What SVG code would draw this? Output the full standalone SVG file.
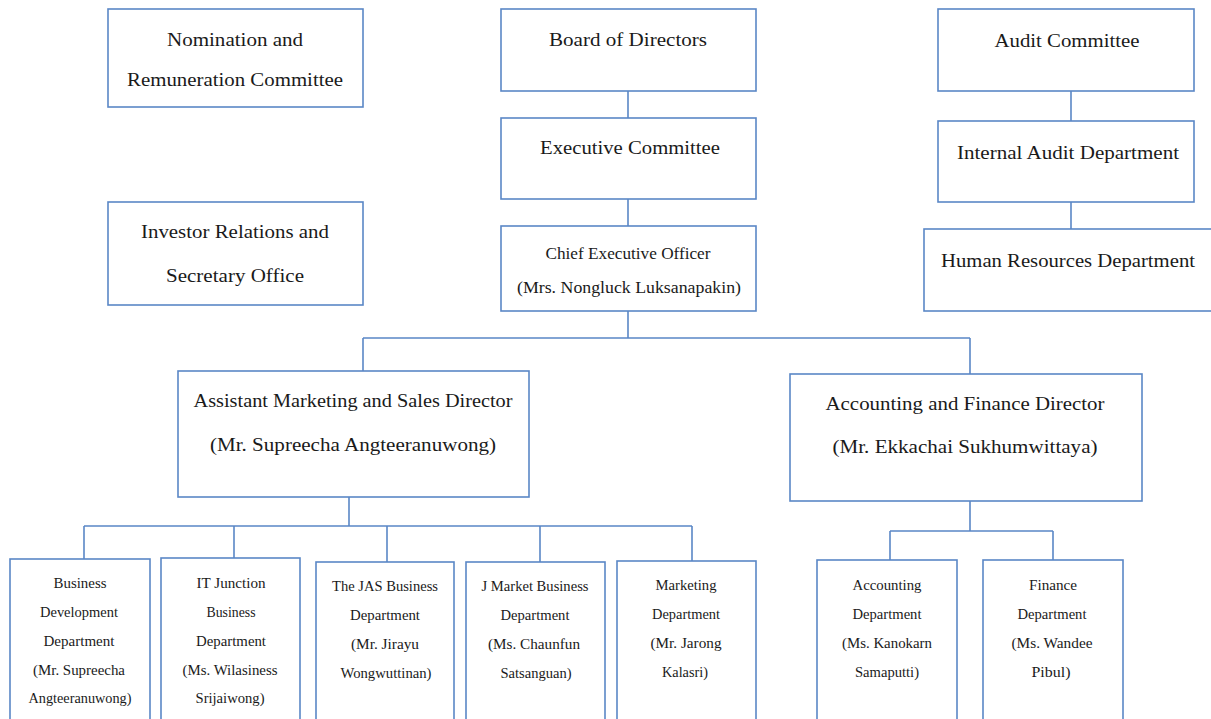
<svg xmlns="http://www.w3.org/2000/svg" width="1211" height="719" viewBox="0 0 1211 719">
<style>
.box{fill:#fff;stroke:#5A87C6;stroke-width:1.6}
.ln{fill:none;stroke:#5A87C6;stroke-width:1.6}
.t{font-family:"Liberation Serif","Times New Roman",serif;font-size:19px;fill:#1a1a1a;text-anchor:middle}
.m{font-family:"Liberation Serif","Times New Roman",serif;font-size:16px;fill:#1a1a1a;text-anchor:middle}
.s{font-family:"Liberation Serif","Times New Roman",serif;font-size:14.5px;fill:#1a1a1a;text-anchor:middle}
</style>
<rect width="1211" height="719" fill="#fff"/>
<g id="connectors">
<path class="ln" d="M628 91V118M628 199V226M628 311V338M363 338H970M363 338V371M970 338V374"/>
<path class="ln" d="M1071 91V121M1071 202V229"/>
<path class="ln" d="M349 497V526M84 526H692M84 526V559M234 526V558M387 526V562M540 526V562M692 526V561"/>
<path class="ln" d="M970 501V531M890 531H1053M890 531V560M1053 531V560"/>
</g>
<g id="nomination">
<rect class="box" x="108" y="9" width="255" height="98"/>
<text class="t" x="235" y="46" textLength="136" lengthAdjust="spacingAndGlyphs">Nomination and</text>
<text class="t" x="235" y="86" textLength="216" lengthAdjust="spacingAndGlyphs">Remuneration Committee</text>
</g>
<g id="board">
<rect class="box" x="501" y="9" width="255" height="82"/>
<text class="t" x="628" y="46" textLength="158" lengthAdjust="spacingAndGlyphs">Board of Directors</text>
</g>
<g id="audit">
<rect class="box" x="938" y="9" width="256" height="82"/>
<text class="t" x="1067" y="47" textLength="145" lengthAdjust="spacingAndGlyphs">Audit Committee</text>
</g>
<g id="executive">
<rect class="box" x="501" y="118" width="255" height="81"/>
<text class="t" x="630" y="154" textLength="180" lengthAdjust="spacingAndGlyphs">Executive Committee</text>
</g>
<g id="internal-audit">
<rect class="box" x="938" y="121" width="256" height="81"/>
<text class="t" x="1068" y="159" textLength="222" lengthAdjust="spacingAndGlyphs">Internal Audit Department</text>
</g>
<g id="hr">
<rect class="box" x="924" y="229" width="300" height="82"/>
<text class="t" x="1068" y="267" textLength="254" lengthAdjust="spacingAndGlyphs">Human Resources Department</text>
</g>
<g id="investor">
<rect class="box" x="108" y="202" width="255" height="103"/>
<text class="t" x="235" y="238" textLength="188" lengthAdjust="spacingAndGlyphs">Investor Relations and</text>
<text class="t" x="235" y="282" textLength="138" lengthAdjust="spacingAndGlyphs">Secretary Office</text>
</g>
<g id="ceo">
<rect class="box" x="501" y="226" width="255" height="85"/>
<text class="m" x="628" y="259" textLength="165" lengthAdjust="spacingAndGlyphs">Chief Executive Officer</text>
<text class="m" x="629" y="293" textLength="224" lengthAdjust="spacingAndGlyphs">(Mrs. Nongluck Luksanapakin)</text>
</g>
<g id="assistant-marketing">
<rect class="box" x="178" y="371" width="351" height="126"/>
<text class="t" x="353" y="407" textLength="319" lengthAdjust="spacingAndGlyphs">Assistant Marketing and Sales Director</text>
<text class="t" x="353" y="451" textLength="286" lengthAdjust="spacingAndGlyphs">(Mr. Supreecha Angteeranuwong)</text>
</g>
<g id="accounting-finance-director">
<rect class="box" x="790" y="374" width="352" height="127"/>
<text class="t" x="965" y="410" textLength="279" lengthAdjust="spacingAndGlyphs">Accounting and Finance Director</text>
<text class="t" x="965" y="453" textLength="265" lengthAdjust="spacingAndGlyphs">(Mr. Ekkachai Sukhumwittaya)</text>
</g>
<g id="business-development">
<rect class="box" x="10" y="559" width="140" height="170"/>
<text class="s" x="80" y="588" textLength="53" lengthAdjust="spacingAndGlyphs">Business</text>
<text class="s" x="79" y="617" textLength="78" lengthAdjust="spacingAndGlyphs">Development</text>
<text class="s" x="79" y="646" textLength="71" lengthAdjust="spacingAndGlyphs">Department</text>
<text class="s" x="79" y="675" textLength="92" lengthAdjust="spacingAndGlyphs">(Mr. Supreecha</text>
<text class="s" x="80" y="703" textLength="103" lengthAdjust="spacingAndGlyphs">Angteeranuwong)</text>
</g>
<g id="it-junction">
<rect class="box" x="161" y="558" width="139" height="171"/>
<text class="s" x="231" y="588" textLength="69" lengthAdjust="spacingAndGlyphs">IT Junction</text>
<text class="s" x="231" y="617" textLength="49" lengthAdjust="spacingAndGlyphs">Business</text>
<text class="s" x="231" y="646" textLength="70" lengthAdjust="spacingAndGlyphs">Department</text>
<text class="s" x="230" y="675" textLength="95" lengthAdjust="spacingAndGlyphs">(Ms. Wilasiness</text>
<text class="s" x="230" y="703" textLength="69" lengthAdjust="spacingAndGlyphs">Srijaiwong)</text>
</g>
<g id="jas">
<rect class="box" x="316" y="562" width="138" height="167"/>
<text class="s" x="385" y="591" textLength="106" lengthAdjust="spacingAndGlyphs">The JAS Business</text>
<text class="s" x="385" y="620" textLength="70" lengthAdjust="spacingAndGlyphs">Department</text>
<text class="s" x="385" y="649" textLength="68" lengthAdjust="spacingAndGlyphs">(Mr. Jirayu</text>
<text class="s" x="386" y="678" textLength="91" lengthAdjust="spacingAndGlyphs">Wongwuttinan)</text>
</g>
<g id="j-market">
<rect class="box" x="466" y="562" width="139" height="167"/>
<text class="s" x="535" y="591" textLength="107" lengthAdjust="spacingAndGlyphs">J Market Business</text>
<text class="s" x="535" y="620" textLength="69" lengthAdjust="spacingAndGlyphs">Department</text>
<text class="s" x="534" y="649" textLength="92" lengthAdjust="spacingAndGlyphs">(Ms. Chaunfun</text>
<text class="s" x="536" y="678" textLength="71" lengthAdjust="spacingAndGlyphs">Satsanguan)</text>
</g>
<g id="marketing">
<rect class="box" x="617" y="561" width="139" height="168"/>
<text class="s" x="686" y="590" textLength="61" lengthAdjust="spacingAndGlyphs">Marketing</text>
<text class="s" x="686" y="619" textLength="68" lengthAdjust="spacingAndGlyphs">Department</text>
<text class="s" x="686" y="648" textLength="71" lengthAdjust="spacingAndGlyphs">(Mr. Jarong</text>
<text class="s" x="685" y="677" textLength="46" lengthAdjust="spacingAndGlyphs">Kalasri)</text>
</g>
<g id="accounting">
<rect class="box" x="817" y="560" width="140" height="169"/>
<text class="s" x="887" y="590" textLength="69" lengthAdjust="spacingAndGlyphs">Accounting</text>
<text class="s" x="887" y="619" textLength="69" lengthAdjust="spacingAndGlyphs">Department</text>
<text class="s" x="887" y="648" textLength="90" lengthAdjust="spacingAndGlyphs">(Ms. Kanokarn</text>
<text class="s" x="887" y="677" textLength="64" lengthAdjust="spacingAndGlyphs">Samaputti)</text>
</g>
<g id="finance">
<rect class="box" x="983" y="560" width="140" height="169"/>
<text class="s" x="1053" y="590" textLength="48" lengthAdjust="spacingAndGlyphs">Finance</text>
<text class="s" x="1052" y="619" textLength="69" lengthAdjust="spacingAndGlyphs">Department</text>
<text class="s" x="1052" y="648" textLength="81" lengthAdjust="spacingAndGlyphs">(Ms. Wandee</text>
<text class="s" x="1051" y="677" textLength="39" lengthAdjust="spacingAndGlyphs">Pibul)</text>
</g>
</svg>
